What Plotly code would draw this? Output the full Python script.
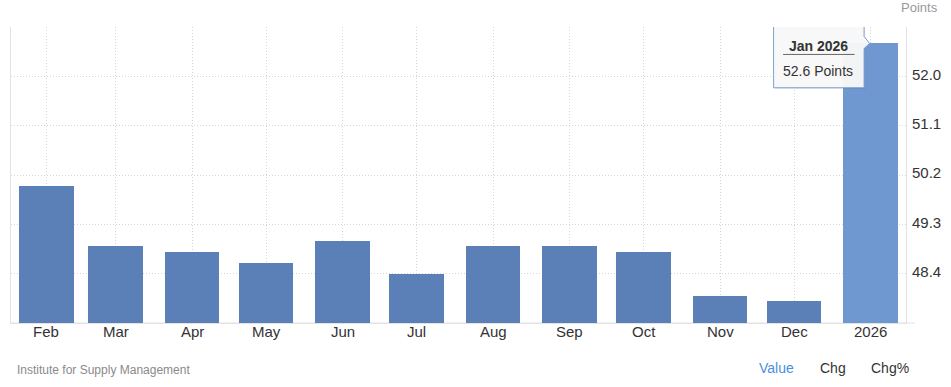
import pandas as pd
import plotly.graph_objects as go

# ---- data ----
months = ["2025-02-01", "2025-03-01", "2025-04-01", "2025-05-01", "2025-06-01", "2025-07-01",
          "2025-08-01", "2025-09-01", "2025-10-01", "2025-11-01", "2025-12-01", "2026-01-01"]
tick_labels = ["Feb", "Mar", "Apr", "May", "Jun", "Jul", "Aug", "Sep", "Oct", "Nov", "Dec", "2026"]
values = [50.0, 48.9, 48.8, 48.6, 49.0, 48.4, 48.9, 48.9, 48.8, 48.0, 47.9, 52.6]
y_ticks = [48.4, 49.3, 50.2, 51.1, 52.0, 52.9]
y_tick_text = ["48.4", "49.3", "50.2", "51.1", "52.0", ""]
unit = "Points"
source = "Institute for Supply Management"
tooltip_title = "Jan 2026"

# ---- styling ----
FONT = "Liberation Sans, Arial, Helvetica, sans-serif"
BAR = "#5b7fb7"
BAR_HI = "#6e98cf"
GRID = "#d6d6d6"
AXIS = "#e3e3e3"
DOT = "1px,2px"

dates = pd.to_datetime(months)
day_ms = 86400000
bar_w = 22.19 * day_ms
pad = pd.Timedelta(days=14.35)

colors = [BAR] * (len(values) - 1) + [BAR_HI]

fig = go.Figure()
fig.add_trace(go.Bar(
    x=dates, y=values, width=[bar_w] * len(values),
    marker=dict(color=colors, line=dict(width=0)),
    hoverinfo="skip",
))

fig.update_layout(
    width=951, height=387,
    margin=dict(l=10, r=42, t=27, b=64),
    paper_bgcolor="white", plot_bgcolor="white",
    showlegend=False, hovermode=False,
    font=dict(family=FONT, color="#333333"),
    bargap=0,
)

fig.update_xaxes(
    type="date",
    range=[dates[0] - pad, dates[-1] + pad],
    tickmode="array", tickvals=dates, ticktext=tick_labels,
    showticklabels=False,
    ticks="", showgrid=True, gridcolor=GRID, griddash=DOT, gridwidth=1,
    showline=True, linecolor=AXIS, linewidth=1,
    zeroline=False,
)
fig.update_yaxes(
    range=[47.5, 52.9], side="right",
    tickmode="array", tickvals=y_ticks, ticktext=y_tick_text,
    tickfont=dict(size=15, color="#333333"),
    ticks="", showgrid=True, gridcolor=GRID, griddash=DOT, gridwidth=1,
    showline=True, mirror=True, linecolor=AXIS, linewidth=1,
    zeroline=False, ticklabelstandoff=2, ticklabelshift=-2,
)

# x tick labels placed on the date scale
for d, lab in zip(dates, tick_labels):
    fig.add_annotation(text=lab, x=d, xref="x", y=0, yref="paper", xanchor="center",
                       yanchor="middle", yshift=-8, showarrow=False,
                       font=dict(size=15, color="#333333", family=FONT))

# bottom axis line extension
fig.add_shape(type="line", xref="paper", yref="paper", x0=0, x1=1.01, y0=0, y1=0,
              line=dict(color=AXIS, width=1), layer="below")

# unit label
fig.add_annotation(text=unit, xref="paper", yref="paper", x=(902 - 10) / 899, y=1, xanchor="left",
                   yanchor="middle", yshift=20, showarrow=False,
                   font=dict(size=13, color="#999999", family=FONT))

# footer
fig.add_annotation(text=source, xref="paper", yref="paper", x=0, y=0, xanchor="left",
                   yanchor="middle", xshift=4, yshift=-47, showarrow=False,
                   font=dict(size=12, color="#8a8a8a", family=FONT))
for label, xpx, col in [("Value", 759.3, "#4a90e2"), ("Chg", 821, "#333333"), ("Chg%", 871.7, "#333333")]:
    fig.add_annotation(text=label, xref="paper", yref="paper", x=(xpx - 10) / 899, y=0,
                       xanchor="left", yanchor="middle", yshift=-45, showarrow=False,
                       font=dict(size=14, color=col, family=FONT))

# tooltip anchored on last point
ax_, ay_ = dates[-1], values[-1]
common = dict(xref="x", yref="y", xsizemode="pixel", ysizemode="pixel", xanchor=ax_, yanchor=ay_)
# shadow
fig.add_shape(type="path", path="M -96,-45.5 L -5.5,-45.5 L -5.5,16 L -96,16 Z",
              fillcolor="rgba(0,0,0,0.08)", line=dict(width=0), **common)
fig.add_shape(type="path",
              path="M -97,17 L -6.5,17 L -6.5,7 L -1,0 L -6.5,-5 L -6.5,-44.3 L -97,-44.3 Z",
              fillcolor="rgba(248,248,248,0.97)", line=dict(color="#7ea1d4", width=1), **common)
fig.add_shape(type="line", x0=-87.5, x1=-16, y0=-11, y1=-11,
              line=dict(color="#666666", width=1), **common)
fig.add_annotation(text="<b>" + tooltip_title + "</b>", x=ax_, y=ay_, xref="x", yref="y",
                   xanchor="center", yanchor="middle", xshift=-52.5, yshift=-3, showarrow=False,
                   font=dict(size=14, color="#333333", family=FONT))
fig.add_annotation(text=f"{values[-1]:.1f} {unit}", x=ax_, y=ay_, xref="x", yref="y",
                   xanchor="center", yanchor="middle", xshift=-52.5, yshift=-28, showarrow=False,
                   font=dict(size=14, color="#333333", family=FONT))

fig.write_html("out.html")
